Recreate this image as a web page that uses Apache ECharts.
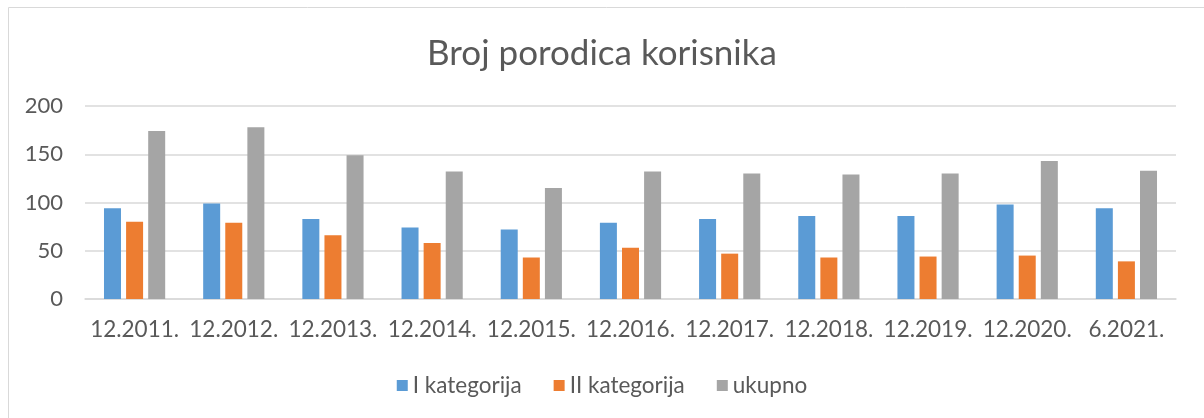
<!DOCTYPE html>
<html>
<head>
<meta charset="utf-8">
<script src="https://cdn.jsdelivr.net/npm/echarts@6/dist/echarts.min.js"></script>
<style>
  html, body { margin: 0; padding: 0; background: #fff; }
  #myChart { width: 1204px; height: 418px; }
</style>
</head>
<body>
<div id="myChart"></div>
<script>
  // kategorije (datumi)
  var categories = ['12.2011.', '12.2012.', '12.2013.', '12.2014.', '12.2015.', '12.2016.',
    '12.2017.', '12.2018.', '12.2019.', '12.2020.', '6.2021.']
  var prvaKategorija = [94, 99, 83, 74, 72, 79, 83, 86, 86, 98, 94]
  var drugaKategorija = [80, 79, 66, 58, 43, 53, 47, 43, 44, 45, 39]
  var ukupno = [174, 178, 149, 132, 115, 132, 130, 129, 130, 143, 133]
  var yTicks = [0, 50, 100, 150, 200]

  var font = 'Lato'
  var textColor = '#595959'

  function serija(name, color, data) {
    return {
      name: name,
      type: 'bar',
      data: data,
      barWidth: 17,
      barGap: '30%',
      itemStyle: { color: color },
      animation: false
    }
  }

  var myChart = echarts.init(document.getElementById('myChart'))
  myChart.setOption({
    animation: false,
    title: {
      text: 'Broj porodica korisnika',
      left: 'center',
      top: 31,
      textStyle: { fontFamily: font, fontSize: 35, fontWeight: 'normal', color: textColor }
    },
    graphic: [{
      type: 'rect',
      shape: { x: 8.5, y: 7.5, width: 1210, height: 430 },
      style: { fill: 'none', stroke: '#d9d9d9', lineWidth: 1 },
      silent: true
    }],
    legend: {
      data: ['I kategorija', 'II kategorija', 'ukupno'],
      left: 'center',
      top: 369,
      icon: 'rect',
      itemWidth: 11,
      itemHeight: 11,
      itemGap: 32,
      textStyle: { fontFamily: font, fontSize: 22.5, color: textColor }
    },
    grid: { left: 85, right: 28, top: 106, bottom: 119 },
    xAxis: {
      type: 'category',
      data: categories,
      axisTick: { show: false },
      axisLine: { lineStyle: { color: '#d9d9d9', width: 1.5 } },
      axisLabel: { fontFamily: font, fontSize: 22.5, color: textColor, margin: 19, interval: 0 }
    },
    yAxis: {
      type: 'value',
      min: yTicks[0],
      max: yTicks[yTicks.length - 1],
      interval: 50,
      axisLine: { show: false },
      axisTick: { show: false },
      axisLabel: { fontFamily: font, fontSize: 22, color: textColor, margin: 22 },
      splitLine: { lineStyle: { color: '#d9d9d9', width: 1.5 } }
    },
    series: [
      serija('I kategorija', '#5B9BD5', prvaKategorija),
      serija('II kategorija', '#ED7D31', drugaKategorija),
      serija('ukupno', '#A5A5A5', ukupno)
    ]
  })
</script>
</body>
</html>
